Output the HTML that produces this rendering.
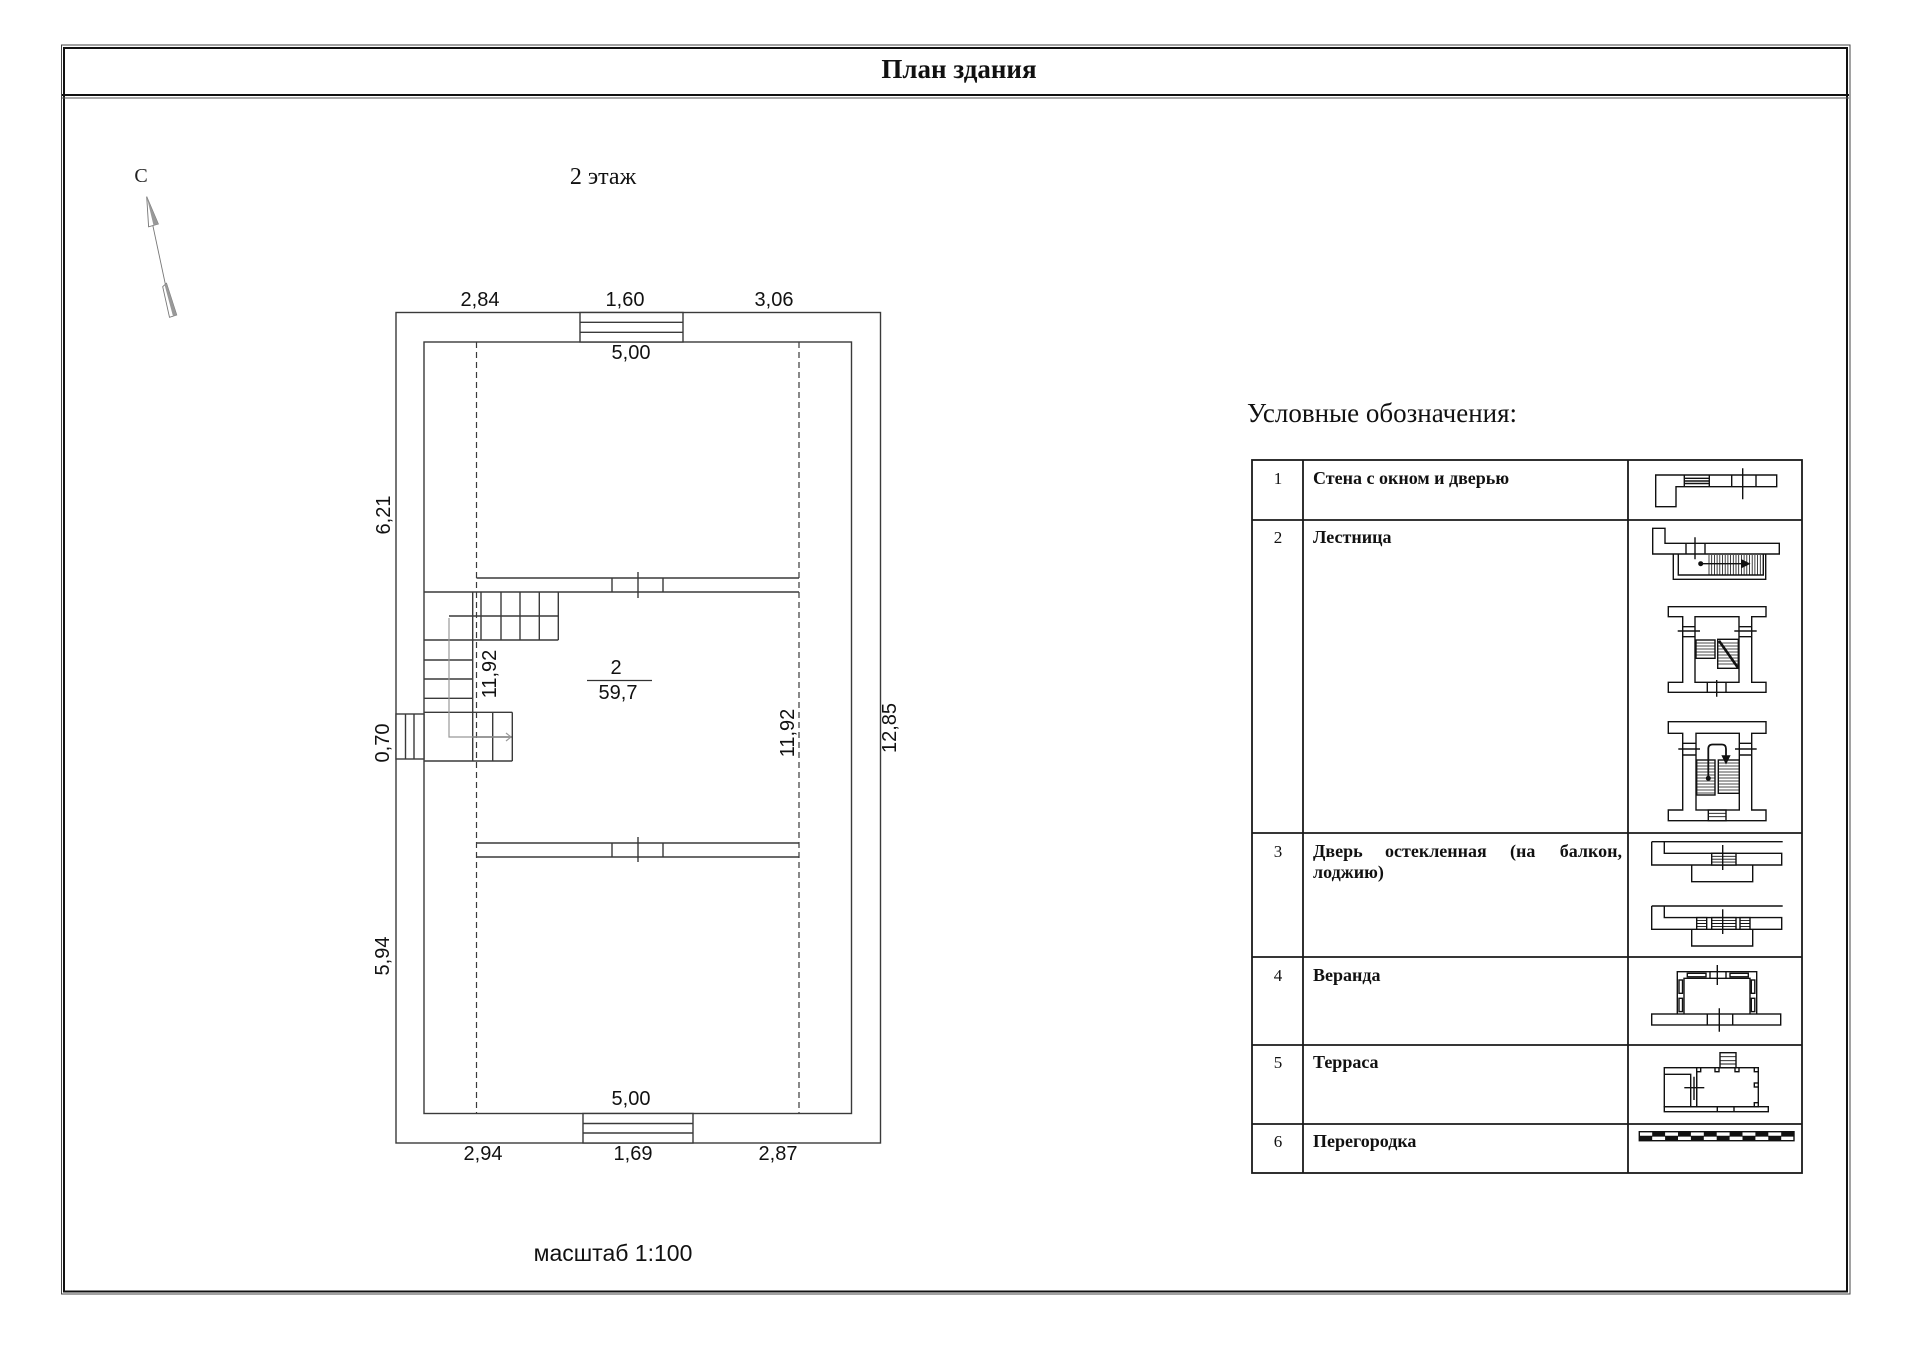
<!DOCTYPE html>
<html>
<head>
<meta charset="utf-8">
<style>
  html,body{margin:0;padding:0;background:#fff;}
  svg{display:block;}
  .sans{font-family:"Liberation Sans",Arial,sans-serif;}
  .serif{font-family:"Liberation Serif","Times New Roman",serif;}
</style>
</head>
<body>
<svg width="1920" height="1357" viewBox="0 0 1920 1357" xmlns="http://www.w3.org/2000/svg">
  <rect width="1920" height="1357" fill="#fff"/>

  <!-- Page frame -->
  <rect x="61.5" y="45" width="1788.5" height="1249" fill="none" stroke="#444" stroke-width="1"/>
  <rect x="64" y="48" width="1783" height="1243.5" fill="none" stroke="#111" stroke-width="2"/>
  <line x1="62" y1="95" x2="1849" y2="95" stroke="#111" stroke-width="2"/>
  <line x1="62" y1="98" x2="1849" y2="98" stroke="#555" stroke-width="1"/>
  <text x="959" y="78" text-anchor="middle" class="serif" font-weight="bold" font-size="27" fill="#111">План здания</text>

  <!-- North arrow -->
  <text x="141" y="182" text-anchor="middle" class="serif" font-size="20" fill="#222">С</text>
  <g stroke="#777" stroke-width="0.9" fill="none">
    <line x1="146.7" y1="196.7" x2="171.7" y2="314"/>
    <polygon points="146.7,196.7 148.6,226.8 158.3,224" fill="#fff"/>
    <polygon points="146.7,196.7 153.5,225.4 158.3,224" fill="#999" stroke="none"/>
    <polygon points="162.7,286.7 166.5,283.3 176.7,315 169.5,317.3" fill="#fff"/>
    <polygon points="164.6,285 166.5,283.3 176.7,315 173,316.2" fill="#999" stroke="none"/>
  </g>

  <text x="603" y="184" text-anchor="middle" class="serif" font-size="24" fill="#111">2 этаж</text>

  <!-- Building -->
  <g stroke="#3a3a3a" stroke-width="1.4" fill="none">
    <rect x="396" y="312.5" width="484.5" height="830.5"/>
    <rect x="424" y="342" width="427.5" height="771.5"/>
    <!-- top window -->
    <rect x="580" y="312.5" width="103" height="29.5" fill="#fff"/>
    <line x1="580" y1="322.3" x2="683" y2="322.3"/>
    <line x1="580" y1="332.3" x2="683" y2="332.3"/>
    <!-- bottom window -->
    <rect x="583" y="1113.5" width="110" height="29.5" fill="#fff"/>
    <line x1="583" y1="1123.5" x2="693" y2="1123.5"/>
    <line x1="583" y1="1133" x2="693" y2="1133"/>
    <!-- left window -->
    <rect x="396" y="714" width="28" height="45" fill="#fff"/>
    <line x1="405.5" y1="714" x2="405.5" y2="759"/>
    <line x1="414" y1="714" x2="414" y2="759"/>
  </g>
  <g stroke="#3a3a3a" stroke-width="1.2" stroke-dasharray="6 4" fill="none">
    <line x1="476.5" y1="342" x2="476.5" y2="1113.5"/>
    <line x1="799" y1="342" x2="799" y2="1113.5"/>
  </g>
  <g stroke="#3a3a3a" stroke-width="1.4" fill="none">
    <!-- top partition -->
    <line x1="476.5" y1="578" x2="799" y2="578"/>
    <line x1="424" y1="592" x2="799" y2="592"/>
    <line x1="612" y1="578" x2="612" y2="592"/>
    <line x1="663" y1="578" x2="663" y2="592"/>
    <line x1="638" y1="572" x2="638" y2="598"/>
    <!-- bottom partition -->
    <line x1="476.5" y1="843" x2="799" y2="843"/>
    <line x1="476.5" y1="857" x2="799" y2="857"/>
    <line x1="612" y1="843" x2="612" y2="857"/>
    <line x1="663" y1="843" x2="663" y2="857"/>
    <line x1="638" y1="837" x2="638" y2="862"/>
    <!-- staircase -->
    <line x1="472.7" y1="592" x2="472.7" y2="761"/>
    <line x1="481" y1="592" x2="481" y2="640"/>
    <line x1="501" y1="592" x2="501" y2="640"/>
    <line x1="520" y1="592" x2="520" y2="640"/>
    <line x1="539.3" y1="592" x2="539.3" y2="640"/>
    <line x1="558.3" y1="592" x2="558.3" y2="640"/>
    <line x1="449" y1="616" x2="558.3" y2="616"/>
    <line x1="424" y1="640" x2="558.3" y2="640"/>
    <line x1="424" y1="660" x2="472.7" y2="660"/>
    <line x1="424" y1="679" x2="472.7" y2="679"/>
    <line x1="424" y1="698.3" x2="472.7" y2="698.3"/>
    <line x1="424" y1="712.3" x2="512.3" y2="712.3"/>
    <line x1="424" y1="761" x2="512.3" y2="761"/>
    <line x1="512.3" y1="712.3" x2="512.3" y2="761"/>
    <line x1="492.7" y1="712.3" x2="492.7" y2="761"/>
    <line x1="472.7" y1="737" x2="512.3" y2="737"/>
  </g>
  <path d="M449 618V737H511 M506 733L511 737L506 741" stroke="#999" stroke-width="1.2" fill="none"/>

  <!-- Room label -->
  <g class="sans" font-size="20" fill="#111" text-anchor="middle">
    <text x="616" y="674">2</text>
    <text x="618" y="699">59,7</text>
  </g>
  <line x1="587" y1="680.5" x2="652" y2="680.5" stroke="#333" stroke-width="1.2"/>

  <!-- Dimensions -->
  <g class="sans" font-size="20" fill="#111" text-anchor="middle">
    <text x="480" y="306">2,84</text>
    <text x="625" y="306">1,60</text>
    <text x="774" y="306">3,06</text>
    <text x="631" y="359">5,00</text>
    <text x="631" y="1105">5,00</text>
    <text x="483" y="1160">2,94</text>
    <text x="633" y="1160">1,69</text>
    <text x="778" y="1160">2,87</text>
    <text transform="translate(383,515) rotate(-90)" x="0" y="7">6,21</text>
    <text transform="translate(382,743) rotate(-90)" x="0" y="7">0,70</text>
    <text transform="translate(382,956) rotate(-90)" x="0" y="7">5,94</text>
    <text transform="translate(489,674) rotate(-90)" x="0" y="7">11,92</text>
    <text transform="translate(787,733) rotate(-90)" x="0" y="7">11,92</text>
    <text transform="translate(889,728) rotate(-90)" x="0" y="7">12,85</text>
  </g>
  <text x="613" y="1261" text-anchor="middle" class="sans" font-size="23" fill="#111">масштаб 1:100</text>

  <!-- Legend -->
  <text x="1247" y="422" class="serif" font-size="27" fill="#111">Условные обозначения:</text>

  <g stroke="#1a1a1a" stroke-width="1.8" fill="none">
    <rect x="1252" y="460" width="550" height="713"/>
    <line x1="1303" y1="460" x2="1303" y2="1173"/>
    <line x1="1628" y1="460" x2="1628" y2="1173"/>
    <line x1="1252" y1="520" x2="1802" y2="520"/>
    <line x1="1252" y1="833" x2="1802" y2="833"/>
    <line x1="1252" y1="957" x2="1802" y2="957"/>
    <line x1="1252" y1="1045" x2="1802" y2="1045"/>
    <line x1="1252" y1="1124" x2="1802" y2="1124"/>
  </g>

  <g class="serif" font-size="17" fill="#111" text-anchor="middle">
    <text x="1278" y="484">1</text>
    <text x="1278" y="543">2</text>
    <text x="1278" y="857">3</text>
    <text x="1278" y="981">4</text>
    <text x="1278" y="1068">5</text>
    <text x="1278" y="1147">6</text>
  </g>
  <g class="serif" font-size="18" font-weight="bold" fill="#111">
    <text x="1313" y="484">Стена с окном и дверью</text>
    <text x="1313" y="543">Лестница</text>
    <text x="1313" y="857">Дверь</text>
    <text x="1385" y="857">остекленная</text>
    <text x="1510" y="857">(на</text>
    <text x="1622" y="857" text-anchor="end">балкон,</text>
    <text x="1313" y="878">лоджию)</text>
    <text x="1313" y="981">Веранда</text>
    <text x="1313" y="1068">Терраса</text>
    <text x="1313" y="1147">Перегородка</text>
  </g>

  <!-- Legend icons -->
  <g stroke="#111" stroke-width="1.4" fill="none">
    <!-- Icon 1 -->
    <polygon points="1655.7,475 1776.7,475 1776.7,486.7 1676,486.7 1676,506.7 1655.7,506.7"/>
    <path d="M1684.3 475V486.7 M1709.3 475V486.7 M1684.3 478.3H1709.3 M1684.3 481H1709.3 M1684.3 483.5H1709.3 M1731.7 475V486.7 M1756 475V486.7 M1742.7 468.3V499.3"/>

    <!-- Icon 2a -->
    <polygon points="1652.7,528.3 1665,528.3 1665,543.3 1779.3,543.3 1779.3,554 1652.7,554"/>
    <path d="M1686 543.3V554 M1705 543.3V554 M1695 537.3V559.3"/>
    <path d="M1673.3 554V579.3H1765.7V554 M1678.3 554V575H1763.3V554"/>
    <path stroke-width="0.8" d="M1709 555V575 M1711.7 555V575 M1714.4 555V575 M1717.1 555V575 M1719.8 555V575 M1722.5 555V575 M1725.2 555V575 M1727.9 555V575 M1730.6 555V575 M1733.3 555V575 M1736 555V575 M1738.7 555V575 M1741.4 555V575 M1744.1 555V575 M1746.8 555V575 M1749.5 555V575 M1752.2 555V575 M1754.9 555V575 M1757.6 555V575 M1760.3 555V575"/>
    <line x1="1700.7" y1="563.7" x2="1746" y2="563.7"/>
    <circle cx="1700.7" cy="563.7" r="1.8" fill="#111"/>
    <polygon points="1749,563.7 1742,560.3 1742,567.1" fill="#111"/>

    <!-- Icon 2b -->
    <polygon points="1668.3,606.7 1766,606.7 1766,616.7 1751.7,616.7 1751.7,682.3 1766,682.3 1766,692.3 1668.3,692.3 1668.3,682.3 1682.7,682.3 1682.7,616.7 1668.3,616.7"/>
    <rect x="1695" y="616.7" width="44" height="65.6"/>
    <path d="M1682.7 626.7H1695 M1682.7 636.7H1695 M1677.7 631H1700 M1739 626.7H1751.7 M1739 636.7H1751.7 M1734.3 631H1756.7"/>
    <path d="M1707.3 682.3V692.3 M1726 682.3V692.3 M1716.7 680V696.7"/>
    <rect x="1696" y="640" width="19" height="18.3"/>
    <path stroke-width="0.8" d="M1696 643H1715 M1696 646H1715 M1696 649H1715 M1696 652H1715 M1696 655H1715"/>
    <rect x="1717.7" y="639.3" width="20.6" height="29"/>
    <path stroke-width="0.8" d="M1717.7 643H1738.3 M1717.7 646H1738.3 M1717.7 649H1738.3 M1717.7 652H1738.3 M1717.7 655H1738.3 M1717.7 658H1738.3 M1717.7 661H1738.3 M1717.7 664H1738.3"/>
    <line x1="1719" y1="640.7" x2="1738.3" y2="668.3" stroke-width="2.6"/>

    <!-- Icon 2c -->
    <polygon points="1668.3,721.7 1766,721.7 1766,733.3 1751.7,733.3 1751.7,810 1766,810 1766,820.7 1668.3,820.7 1668.3,810 1682.7,810 1682.7,733.3 1668.3,733.3"/>
    <rect x="1696" y="733.3" width="43.3" height="76.7"/>
    <path d="M1682.7 743.3H1696 M1682.7 755H1696 M1678.3 749H1700 M1739.3 743.3H1751.7 M1739.3 755H1751.7 M1735 749H1756.7"/>
    <rect x="1708.3" y="810" width="17.7" height="10.7"/>
    <path stroke-width="0.9" d="M1708.3 813.3H1726 M1708.3 816.7H1726"/>
    <rect x="1696.7" y="760" width="18.3" height="35"/>
    <rect x="1718.3" y="760" width="21" height="33.3"/>
    <path stroke-width="0.8" d="M1696.7 763H1715 M1696.7 766H1715 M1696.7 769H1715 M1696.7 772H1715 M1696.7 775H1715 M1696.7 778H1715 M1696.7 781H1715 M1696.7 784H1715 M1696.7 787H1715 M1696.7 790H1715 M1696.7 793H1715 M1718.3 763H1739.3 M1718.3 766H1739.3 M1718.3 769H1739.3 M1718.3 772H1739.3 M1718.3 775H1739.3 M1718.3 778H1739.3 M1718.3 781H1739.3 M1718.3 784H1739.3 M1718.3 787H1739.3 M1718.3 790H1739.3"/>
    <path stroke-width="1.8" d="M1708.3 778.3V749 Q1708.3 744.5 1712.5 744.5 H1722 Q1726 744.5 1726 749 V758"/>
    <circle cx="1708.3" cy="778.3" r="1.8" fill="#111"/>
    <polygon points="1726,763 1722.5,756 1729.5,756" fill="#111"/>

    <!-- Icon 3a -->
    <path d="M1651.7 841.7H1782.7 M1651.7 841.7V865H1781.7V853.3H1664.3V841.7"/>
    <path d="M1691.7 865V881.7H1752.7V865"/>
    <rect x="1711.7" y="853.3" width="24.3" height="11.7" fill="#fff"/>
    <path stroke-width="0.9" d="M1711.7 856.3H1736 M1711.7 859.2H1736 M1711.7 862.1H1736"/>
    <path d="M1722.7 845V870"/>

    <!-- Icon 3b -->
    <path d="M1651.7 906H1782.7 M1651.7 906V929.3H1781.7V917.6H1664.3V906"/>
    <path d="M1691.7 929.3V946H1752.7V929.3"/>
    <rect x="1696.7" y="917.6" width="10" height="11.7" fill="#fff"/>
    <rect x="1711.7" y="917.6" width="24.3" height="11.7" fill="#fff"/>
    <rect x="1740" y="917.6" width="10" height="11.7" fill="#fff"/>
    <path stroke-width="0.9" d="M1696.7 920.6H1706.7 M1696.7 923.5H1706.7 M1696.7 926.4H1706.7 M1711.7 920.6H1736 M1711.7 923.5H1736 M1711.7 926.4H1736 M1740 920.6H1750 M1740 923.5H1750 M1740 926.4H1750"/>
    <path d="M1722.7 909.3V934"/>

    <!-- Icon 4 -->
    <path d="M1677.3 1014V971.7H1756.7V1014 M1684 1014V978.3H1750V1014"/>
    <rect x="1651.7" y="1014" width="129" height="11"/>
    <path d="M1707.3 1014V1025 M1732.7 1014V1025 M1719.3 1008.3V1031.7"/>
    <rect x="1687.3" y="973.3" width="18.7" height="3.5"/>
    <rect x="1730" y="973.3" width="18.3" height="3.5"/>
    <path d="M1710 971.7V978.3 M1726 971.7V978.3 M1717.3 965V985"/>
    <rect x="1679" y="980" width="3.5" height="13.3"/>
    <rect x="1679" y="998.3" width="3.5" height="13.3"/>
    <rect x="1751.3" y="980" width="3.5" height="13.3"/>
    <rect x="1751.3" y="998.3" width="3.5" height="13.3"/>

    <!-- Icon 5 -->
    <rect x="1664.3" y="1067.7" width="32.4" height="39"/>
    <path d="M1664.3 1074.3H1690.7V1106.7"/>
    <rect x="1696.7" y="1067.7" width="61.6" height="39"/>
    <rect x="1664.3" y="1106.7" width="104" height="5"/>
    <path d="M1717.3 1106.7V1111.7 M1734 1106.7V1111.7"/>
    <rect x="1696.7" y="1067.7" width="4" height="4" fill="#fff"/>
    <rect x="1715" y="1067.7" width="4" height="4" fill="#fff"/>
    <rect x="1735" y="1067.7" width="4" height="4" fill="#fff"/>
    <rect x="1754.3" y="1067.7" width="4" height="4" fill="#fff"/>
    <rect x="1754.3" y="1083" width="4" height="4" fill="#fff"/>
    <rect x="1754.3" y="1102.7" width="4" height="4" fill="#fff"/>
    <rect x="1720" y="1052.7" width="16" height="15"/>
    <path stroke-width="0.9" d="M1720 1056.7H1736 M1720 1060.7H1736 M1720 1064H1736"/>
    <path d="M1684.3 1087.7H1704.3 M1694 1076.7V1100"/>

    <!-- Icon 6 -->
    <rect x="1639.3" y="1131.7" width="154.7" height="9"/>
    <line x1="1639.3" y1="1136.2" x2="1794" y2="1136.2" stroke-width="0.8"/>
  </g>
  <g fill="#111">
    <rect x="1639.3" y="1136.2" width="12.9" height="4.5"/>
    <rect x="1665.1" y="1136.2" width="12.9" height="4.5"/>
    <rect x="1690.9" y="1136.2" width="12.9" height="4.5"/>
    <rect x="1716.7" y="1136.2" width="12.9" height="4.5"/>
    <rect x="1742.5" y="1136.2" width="12.9" height="4.5"/>
    <rect x="1768.3" y="1136.2" width="12.9" height="4.5"/>
    <rect x="1652.2" y="1131.7" width="12.9" height="4.5"/>
    <rect x="1678" y="1131.7" width="12.9" height="4.5"/>
    <rect x="1703.8" y="1131.7" width="12.9" height="4.5"/>
    <rect x="1729.6" y="1131.7" width="12.9" height="4.5"/>
    <rect x="1755.4" y="1131.7" width="12.9" height="4.5"/>
    <rect x="1781.2" y="1131.7" width="12.8" height="4.5"/>
  </g>
</svg>
</body>
</html>
